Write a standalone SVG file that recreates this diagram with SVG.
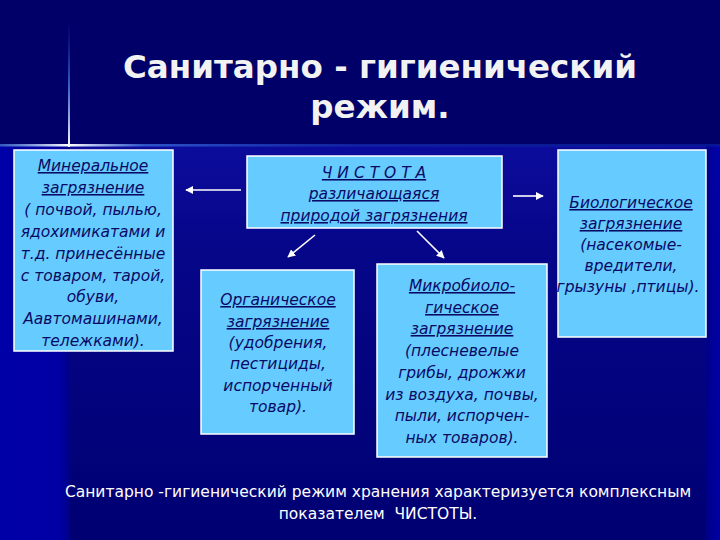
<svg xmlns="http://www.w3.org/2000/svg" width="720" height="540" viewBox="0 0 720 540">
<defs>
<linearGradient id="lower" x1="0" y1="0" x2="0" y2="1">
<stop offset="0" stop-color="#0c0c9c"/>
<stop offset="0.25" stop-color="#06068a"/>
<stop offset="1" stop-color="#000072"/>
</linearGradient>
<linearGradient id="leftStripe" x1="0" y1="0" x2="1" y2="0">
<stop offset="0" stop-color="#0000a8"/>
<stop offset="0.85" stop-color="#0000a4"/>
<stop offset="1" stop-color="#000088"/>
</linearGradient>
<linearGradient id="rightStripe" x1="0" y1="0" x2="1" y2="0">
<stop offset="0" stop-color="#00008a"/>
<stop offset="1" stop-color="#0000b4"/>
</linearGradient>
<linearGradient id="hline" x1="0" y1="0" x2="720" y2="0" gradientUnits="userSpaceOnUse">
<stop offset="0" stop-color="#4a7ee0" stop-opacity="0.7"/>
<stop offset="0.096" stop-color="#ffffff" stop-opacity="1"/>
<stop offset="0.2" stop-color="#3a6ae0" stop-opacity="0.8"/>
<stop offset="0.5" stop-color="#1c3cc8" stop-opacity="0.55"/>
<stop offset="1" stop-color="#1030c0" stop-opacity="0.45"/>
</linearGradient>
<linearGradient id="vline" x1="0" y1="20" x2="0" y2="146" gradientUnits="userSpaceOnUse">
<stop offset="0" stop-color="#2040c0" stop-opacity="0"/>
<stop offset="0.5" stop-color="#4a80e8" stop-opacity="0.7"/>
<stop offset="1" stop-color="#ffffff" stop-opacity="1"/>
</linearGradient>
<marker id="ah" viewBox="0 0 10 10" refX="9" refY="5" markerWidth="5" markerHeight="5" orient="auto" markerUnits="strokeWidth">
<path d="M0,0 L10,5 L0,10 z" fill="#ffffff"/>
</marker>
</defs>
<style>
.box{fill:#66ccff;stroke:#ffffff;stroke-width:1.5}
.bt{font-family:"DejaVu Sans","Liberation Sans",sans-serif;font-style:italic;font-size:15.5px;fill:#0a0a66;text-anchor:middle}
.u{text-decoration:underline}
.title{font-family:"DejaVu Sans","Liberation Sans",sans-serif;font-weight:bold;font-size:32.5px;fill:#f2f2f2;text-anchor:middle}
.foot{font-family:"DejaVu Sans","Liberation Sans",sans-serif;font-size:15.5px;fill:#ffffff;text-anchor:middle}
.conn{stroke:#ffffff;stroke-width:1.6;fill:none;marker-end:url(#ah)}
</style>
<rect x="0" y="0" width="720" height="540" fill="#000068"/>
<rect x="70" y="146" width="650" height="394" fill="url(#lower)"/>
<rect x="0" y="146" width="70" height="394" fill="url(#leftStripe)"/>
<rect x="706" y="146" width="14" height="394" fill="url(#rightStripe)" opacity="0.8"/>
<rect x="0" y="144" width="720" height="2.5" fill="url(#hline)"/>
<rect x="68" y="20" width="2" height="127" fill="url(#vline)"/>

<g id="title">
<text class="title" x="380" y="78">Санитарно - гигиенический</text>
<text class="title" x="380" y="118">режим.</text>
</g>

<g id="mineral">
<rect class="box" x="14" y="150" width="159" height="201"/>
<text class="bt u" x="93" y="171">Минеральное</text>
<text class="bt u" x="93" y="193">загрязнение</text>
<text class="bt" x="93" y="215">( почвой, пылью,</text>
<text class="bt" x="93" y="237">ядохимикатами и</text>
<text class="bt" x="93" y="259">т.д. принесённые</text>
<text class="bt" x="93" y="281">с товаром, тарой,</text>
<text class="bt" x="93" y="302">обуви,</text>
<text class="bt" x="93" y="324">Аавтомашинами,</text>
<text class="bt" x="93" y="346">тележками).</text>
</g>

<g id="chistota">
<rect class="box" x="247" y="156" width="255" height="72"/>
<text class="bt u" x="374" y="178">Ч И С Т О Т А</text>
<text class="bt u" x="374" y="199">различающаяся</text>
<text class="bt u" x="374" y="221">природой загрязнения</text>
</g>

<g id="biological">
<rect class="box" x="558" y="150" width="148" height="187"/>
<text class="bt u" x="631" y="208">Биологическое</text>
<text class="bt u" x="631" y="229">загрязнение</text>
<text class="bt" x="631" y="250">(насекомые-</text>
<text class="bt" x="631" y="271">вредители,</text>
<text class="bt" x="628" y="292">грызуны ,птицы).</text>
</g>

<g id="organic">
<rect class="box" x="201" y="270" width="153" height="164"/>
<text class="bt u" x="278" y="305">Органическое</text>
<text class="bt u" x="278" y="327">загрязнение</text>
<text class="bt" x="278" y="348">(удобрения,</text>
<text class="bt" x="278" y="369">пестициды,</text>
<text class="bt" x="278" y="391">испорченный</text>
<text class="bt" x="278" y="412">товар).</text>
</g>

<g id="microbio">
<rect class="box" x="377" y="264" width="170" height="193"/>
<text class="bt u" x="462" y="291">Микробиоло-</text>
<text class="bt u" x="462" y="313">гическое</text>
<text class="bt u" x="462" y="334">загрязнение</text>
<text class="bt" x="462" y="356">(плесневелые</text>
<text class="bt" x="462" y="378">грибы, дрожжи</text>
<text class="bt" x="462" y="400">из воздуха, почвы,</text>
<text class="bt" x="462" y="421">пыли, испорчен-</text>
<text class="bt" x="462" y="443">ных товаров).</text>
</g>

<g id="connectors">
<line class="conn" x1="241" y1="190" x2="186" y2="190"/>
<line class="conn" x1="513" y1="196" x2="543" y2="196"/>
<line class="conn" x1="315" y1="235" x2="288" y2="257"/>
<line class="conn" x1="417" y1="231" x2="444" y2="258"/>
</g>

<g id="footer">
<text class="foot" x="378" y="497">Санитарно -гигиенический режим хранения характеризуется комплексным</text>
<text class="foot" x="378" y="519">показателем&#160; ЧИСТОТЫ.</text>
</g>
</svg>
